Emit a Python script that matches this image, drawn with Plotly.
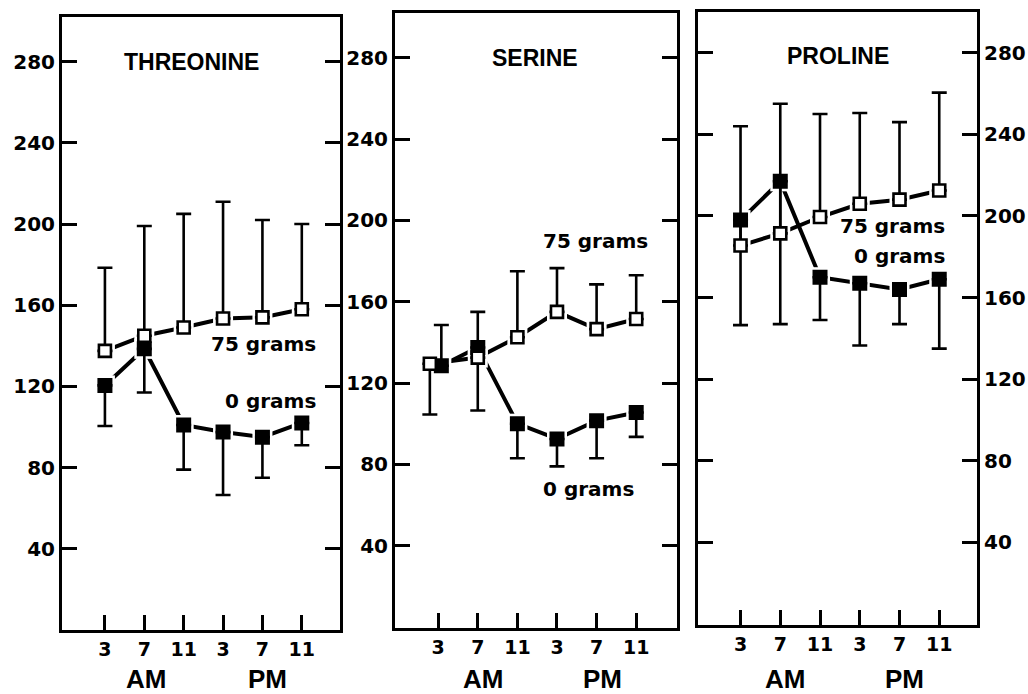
import plotly.graph_objects as go

# Sampling times (3, 7, 11 AM and 3, 7, 11 PM) as slot positions on the x axis
hour_labels = ["3", "7", "11", "3", "7", "11"]
slots = [1, 2, 3, 4, 5, 6]

# ---- Threonine ----
thr_75 = [137.5, 145, 149, 153.5, 154, 158]
thr_75_up = [41, 54, 56, 57.5, 48, 42]
thr_75_dn = [0, 0, 0, 0, 0, 0]
thr_0 = [120.5, 138.5, 101, 97.5, 95, 102]
thr_0_up = [0, 0, 0, 0, 0, 0]
thr_0_dn = [20, 21.5, 22, 31, 20, 11]
thr_x75 = [1, 2, 3, 4, 5, 6]
thr_x0 = [1, 2, 3, 4, 5, 6]

# ---- Serine ----
ser_75 = [129.5, 132.5, 142.5, 155, 146.5, 151.5]
ser_75_up = [0, 22.5, 32.5, 21.5, 22, 21.5]
ser_75_dn = [25, 0, 0, 0, 0, 0]
ser_0 = [128.5, 137.5, 100, 92.5, 101.5, 105.5]
ser_0_up = [20, 0, 0, 0, 0, 0]
ser_0_dn = [0, 31, 17, 13.5, 18.5, 12]
ser_x75 = [0.79, 2, 3, 4, 5, 6]
ser_x0 = [1.08, 2, 3, 4, 5, 6]

# ---- Proline ----
pro_75 = [185.5, 191.5, 199.5, 206, 208, 212.5]
pro_75_up = [58.5, 63.5, 50.5, 44.5, 38, 48]
pro_75_dn = [0, 0, 0, 0, 0, 0]
pro_0 = [198, 217, 170, 167, 164, 169]
pro_0_up = [0, 0, 0, 0, 0, 0]
pro_0_dn = [51.5, 70, 21, 30.5, 17, 34]
pro_x75 = [1, 2, 3, 4, 5, 6]
pro_x0 = [1, 2, 3, 4, 5, 6]

y_ticks = [40, 80, 120, 160, 200, 240, 280]

panels = [
    dict(name="THREONINE", x75=thr_x75, y75=thr_75, u75=thr_75_up, d75=thr_75_dn,
         x0=thr_x0, y0=thr_0, u0=thr_0_up, d0=thr_0_dn,
         xdom=[62, 340], ydom=[17, 630], yrange=[0, 302], xrange=[-0.09, 6.97],
         side="left", title_x=3.2, title_y=280,
         lab75=dict(x=6.4, y=141, anchor="right"), lab0=dict(x=6.4, y=113, anchor="right"),
         am=2.05, pm=5.12),
    dict(name="SERINE", x75=ser_x75, y75=ser_75, u75=ser_75_up, d75=ser_75_dn,
         x0=ser_x0, y0=ser_0, u0=ser_0_up, d0=ser_0_dn,
         xdom=[395, 677], ydom=[13, 628], yrange=[-0.5, 302], xrange=[-0.09, 7.03],
         side="left", title_x=3.45, title_y=280,
         lab75=dict(x=3.6, y=190, anchor="left"), lab0=dict(x=3.6, y=68, anchor="left"),
         am=2.13, pm=5.15),
    dict(name="PROLINE", x75=pro_x75, y75=pro_75, u75=pro_75_up, d75=pro_75_dn,
         x0=pro_x0, y0=pro_0, u0=pro_0_up, d0=pro_0_dn,
         xdom=[698, 977], ydom=[12, 625], yrange=[-0.5, 300], xrange=[-0.07, 6.95],
         side="right", title_x=3.45, title_y=278.5,
         lab75=dict(x=6.2, y=195, anchor="right"), lab0=dict(x=6.2, y=180.5, anchor="right"),
         am=2.13, pm=5.13),
]

W, H = 1028, 694
BOLD = dict(family="DejaVu Sans", color="black", weight="bold")
ARIAL_BOLD = dict(family="Liberation Sans", color="black", weight="bold")

fig = go.Figure()
layout = dict(
    width=W, height=H, margin=dict(l=0, r=0, t=0, b=0),
    paper_bgcolor="white", plot_bgcolor="white", showlegend=False,
    annotations=[],
)

for i, p in enumerate(panels, start=1):
    xa = "x" if i == 1 else f"x{i}"
    ya = "y" if i == 1 else f"y{i}"
    xk = "xaxis" if i == 1 else f"xaxis{i}"
    yk = "yaxis" if i == 1 else f"yaxis{i}"

    # connecting lines
    for xs, ys in ((p["x0"], p["y0"]), (p["x75"], p["y75"])):
        fig.add_trace(go.Scatter(x=xs, y=ys, mode="lines", xaxis=xa, yaxis=ya,
                                 line=dict(color="black", width=4), hoverinfo="skip"))
    # white halos leave a small gap between the lines and the squares
    for xs, ys in ((p["x0"], p["y0"]), (p["x75"], p["y75"])):
        fig.add_trace(go.Scatter(x=xs, y=ys, mode="markers", xaxis=xa, yaxis=ya,
                                 marker=dict(symbol="square", size=20, color="white",
                                             line=dict(width=0)), hoverinfo="skip"))
    # error bars
    for xs, ys, up, dn in ((p["x0"], p["y0"], p["u0"], p["d0"]),
                           (p["x75"], p["y75"], p["u75"], p["d75"])):
        fig.add_trace(go.Scatter(
            x=xs, y=ys, mode="markers", xaxis=xa, yaxis=ya,
            marker=dict(size=1, color="rgba(0,0,0,0)"),
            error_y=dict(type="data", symmetric=False, array=up, arrayminus=dn,
                         color="black", thickness=2.6, width=7.5),
            hoverinfo="skip"))
    # 0 grams: filled squares
    fig.add_trace(go.Scatter(x=p["x0"], y=p["y0"], mode="markers", xaxis=xa, yaxis=ya,
                             marker=dict(symbol="square", size=13, color="black",
                                         line=dict(color="black", width=2))))
    # 75 grams: open squares
    fig.add_trace(go.Scatter(x=p["x75"], y=p["y75"], mode="markers", xaxis=xa, yaxis=ya,
                             marker=dict(symbol="square", size=12, color="white",
                                         line=dict(color="black", width=2.6))))

    layout[xk] = dict(
        domain=[p["xdom"][0] / W, p["xdom"][1] / W], range=p["xrange"], anchor=ya,
        tickmode="array", tickvals=slots, ticktext=hour_labels,
        ticks="inside", ticklen=15, tickwidth=3, tickcolor="black",
        showline=True, linewidth=3, linecolor="black", mirror=True,
        showgrid=False, zeroline=False, tickfont=dict(size=19, **BOLD),
    )
    layout[yk] = dict(
        domain=[1 - p["ydom"][1] / H, 1 - p["ydom"][0] / H], range=p["yrange"], anchor=xa,
        tickmode="array", tickvals=y_ticks, side=p["side"],
        ticks="inside", ticklen=15, tickwidth=3, tickcolor="black",
        showline=True, linewidth=3, linecolor="black", mirror="ticks",
        showgrid=False, zeroline=False, tickfont=dict(size=20, **BOLD),
    )

    ann = layout["annotations"]
    ann.append(dict(text=p["name"], x=p["title_x"], y=p["title_y"], xref=xa, yref=ya,
                    showarrow=False, font=dict(size=23, **ARIAL_BOLD)))
    ann.append(dict(text="75 grams", x=p["lab75"]["x"], y=p["lab75"]["y"], xref=xa, yref=ya,
                    xanchor=p["lab75"]["anchor"], showarrow=False, font=dict(size=20, **BOLD)))
    ann.append(dict(text="0 grams", x=p["lab0"]["x"], y=p["lab0"]["y"], xref=xa, yref=ya,
                    xanchor=p["lab0"]["anchor"], showarrow=False, font=dict(size=20, **BOLD)))
    for txt, xpos in (("AM", p["am"]), ("PM", p["pm"])):
        ann.append(dict(text=txt, x=xpos, y=1 - 679 / H, xref=xa, yref="paper",
                        yanchor="middle", showarrow=False, font=dict(size=26, **ARIAL_BOLD)))

fig.update_layout(**layout)
fig.write_html("out.html")
